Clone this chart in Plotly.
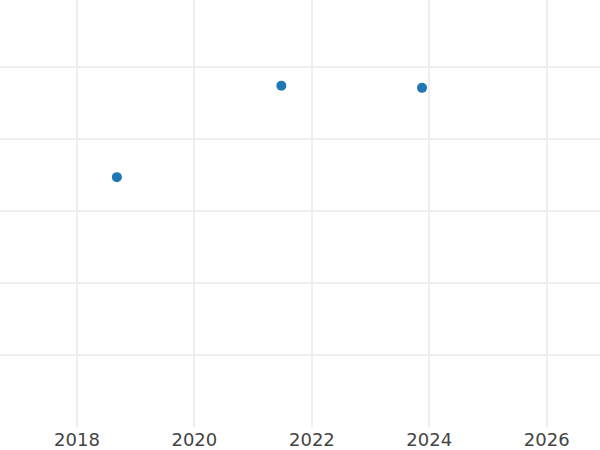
import plotly.graph_objects as go

dates = ["2018-09-06", "2021-06-25", "2023-11-17"]
values = [3.47, 4.74, 4.71]

fig = go.Figure(go.Scatter(
    x=dates, y=values, mode="markers",
    marker=dict(color="#1f77b4", size=10),
))

fig.update_layout(
    width=600, height=450,
    margin=dict(l=0, r=0, t=0, b=23, pad=0),
    paper_bgcolor="white", plot_bgcolor="white",
    showlegend=False,
    font=dict(family="DejaVu Sans", size=18, color="#444"),
)
fig.update_xaxes(
    type="date",
    range=["2016-09-09", "2026-11-28"],
    dtick="M24", tick0="2018-01-01", tickformat="%Y",
    showgrid=True, gridcolor="#eeeeee", gridwidth=1.5,
    zeroline=False, showline=False, ticks="",
)
fig.update_yaxes(
    range=[0, 5.93], dtick=1, tick0=0,
    showgrid=True, gridcolor="#eeeeee", gridwidth=1.5,
    zeroline=False, showline=False, showticklabels=False, ticks="",
)

fig.write_html(
    "out.html",
    config={"displayModeBar": False},
    post_script="document.body.style.margin='0';document.body.style.overflow='hidden';",
)
